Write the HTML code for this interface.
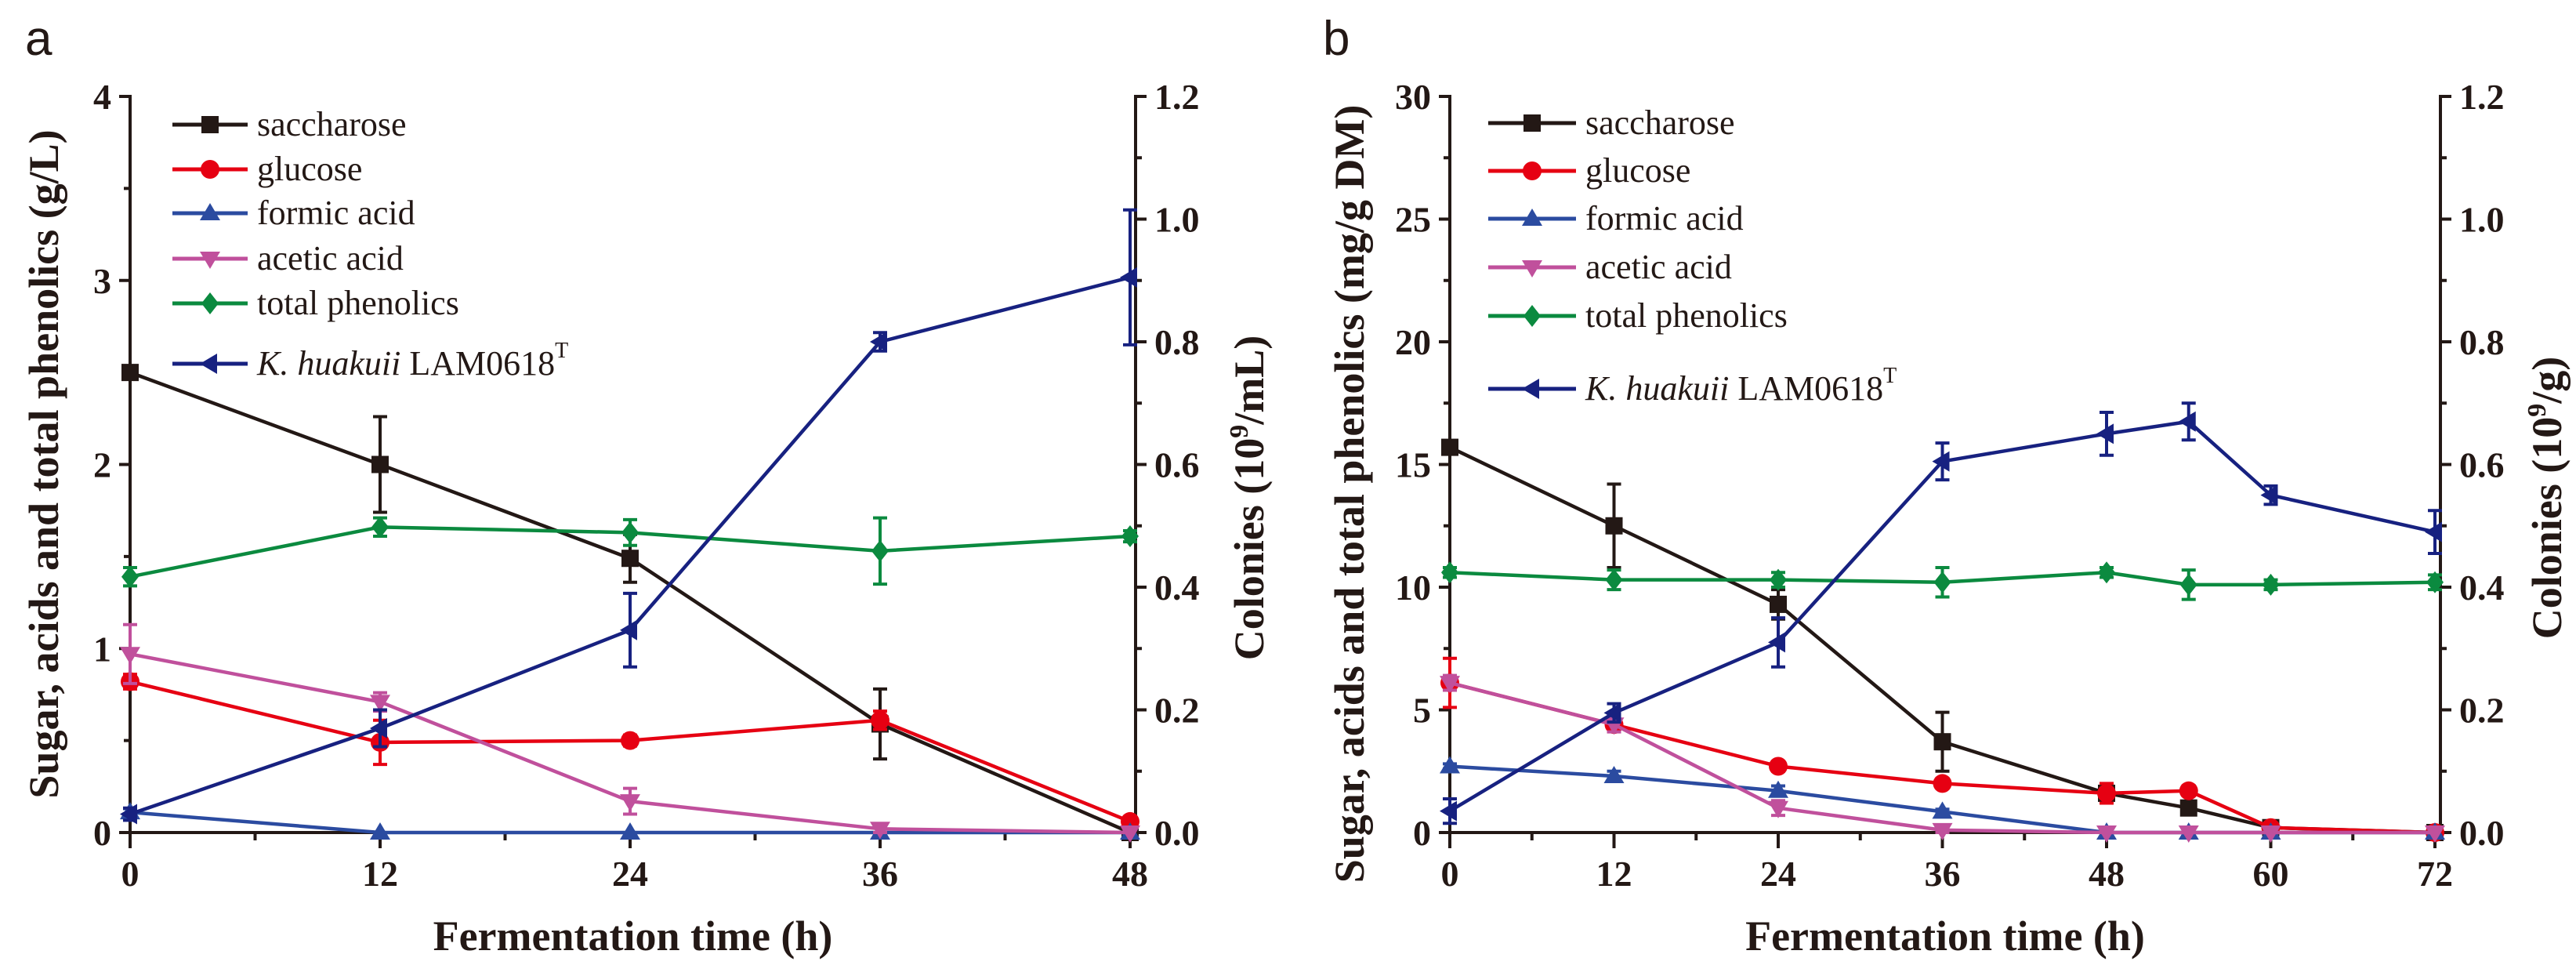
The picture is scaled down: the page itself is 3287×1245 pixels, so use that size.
<!DOCTYPE html>
<html><head><meta charset="utf-8"><style>
html,body{margin:0;padding:0;background:#fff;}
svg{display:block;font-family:"Liberation Serif",serif;}
</style></head><body>
<svg id="fig" width="3287" height="1245" viewBox="0 0 3287 1245" xmlns="http://www.w3.org/2000/svg"></svg>
<script>
// Panel a data
const timesA = [0, 12, 24, 36, 48];
const saccA = [2.5, 2.0, 1.49, 0.59, 0.0];
const saccErrA = [0, 0.26, 0.13, 0.19, 0];
const glucA = [0.82, 0.49, 0.5, 0.61, 0.06];
const glucErrA = [0.04, 0.12, 0.03, 0.05, 0.02];
const formA = [0.11, 0, 0, 0, 0];
const formErrA = [0.02, 0, 0, 0, 0];
const acetA = [0.97, 0.71, 0.17, 0.02, 0];
const acetErrA = [0.16, 0.05, 0.07, 0.02, 0];
const phenA = [1.39, 1.66, 1.63, 1.53, 1.61];
const phenErrA = [0.05, 0.05, 0.07, 0.18, 0.03];
const colA = [0.03, 0.17, 0.33, 0.8, 0.905];
const colErrA = [0.01, 0.03, 0.06, 0.015, 0.11];
const xTicksA = [0, 12, 24, 36, 48];
const yTicksA = [0, 1, 2, 3, 4];
// Panel b data
const timesB = [0, 12, 24, 36, 48, 54, 60, 72];
const saccB = [15.7, 12.5, 9.3, 3.7, 1.6, 1.0, 0.2, 0];
const saccErrB = [0, 1.7, 0.6, 1.2, 0.2, 0.2, 0, 0];
const glucB = [6.1, 4.4, 2.7, 2.0, 1.6, 1.7, 0.2, 0];
const glucErrB = [1.0, 0.2, 0.2, 0.2, 0.4, 0.2, 0.1, 0];
const formB = [2.7, 2.3, 1.7, 0.85, 0, 0, 0, 0];
const formErrB = [0.1, 0.2, 0.2, 0.1, 0, 0, 0, 0];
const acetB = [6.1, 4.4, 1.0, 0.1, 0, 0, 0, 0];
const acetErrB = [0.3, 0.3, 0.3, 0.1, 0, 0, 0, 0];
const phenB = [10.6, 10.3, 10.3, 10.2, 10.6, 10.1, 10.1, 10.2];
const phenErrB = [0.2, 0.4, 0.3, 0.6, 0.2, 0.6, 0.2, 0.3];
const colB = [0.035, 0.195, 0.31, 0.605, 0.65, 0.67, 0.55, 0.49];
const colErrB = [0.02, 0.015, 0.04, 0.03, 0.035, 0.03, 0.015, 0.035];
const xTicksB = [0, 12, 24, 36, 48, 60, 72];
const yTicksB = [0, 5, 10, 15, 20, 25, 30];
const rTicks = [0.0, 0.2, 0.4, 0.6, 0.8, 1.0, 1.2];

const NS = "http://www.w3.org/2000/svg";
const svg = document.getElementById('fig');
function mk(tag, attrs, parent, text) {
  const e = document.createElementNS(NS, tag);
  for (const k in attrs) e.setAttribute(k, attrs[k]);
  if (text !== undefined) e.textContent = text;
  (parent || svg).appendChild(e);
  return e;
}
const COL = {sacc:'#231815', gluc:'#e60012', form:'#2b4ba0', acet:'#c0509c', phen:'#0b8a3f', col:'#172180'};

function marker(g, type, cx, cy, color) {
  const s = 11;
  let m;
  if (type === 'sq') m = mk('rect', {x: cx - s, y: cy - s, width: 2*s, height: 2*s, fill: color}, g);
  else if (type === 'ci') m = mk('circle', {cx: cx, cy: cy, r: s + 1, fill: color}, g);
  else if (type === 'up') m = mk('polygon', {points: `${cx},${cy-s-2} ${cx-s-2},${cy+s-2} ${cx+s+2},${cy+s-2}`, fill: color}, g);
  else if (type === 'dn') m = mk('polygon', {points: `${cx},${cy+s+2} ${cx-s-2},${cy-s+2} ${cx+s+2},${cy-s+2}`, fill: color}, g);
  else if (type === 'di') m = mk('polygon', {points: `${cx},${cy-s-3} ${cx-s},${cy} ${cx},${cy+s+3} ${cx+s},${cy}`, fill: color}, g);
  else if (type === 'lt') m = mk('polygon', {points: `${cx-s-2},${cy} ${cx+s-2},${cy-s-2} ${cx+s-2},${cy+s+2}`, fill: color}, g);
  
  
}

function panel(P) {
  const g = mk('g', {}, svg);
  
  
  const X = t => P.x0 + (t - P.xmin) / (P.xmax - P.xmin) * (P.x1 - P.x0);
  const YL = v => P.y0 - v / P.lmax * (P.y0 - P.y1);
  const YR = v => P.y0 - v / 1.2 * (P.y0 - P.y1);
  const RX = P.xr;

  const lbl = mk('text', {x: P.letterX, y: 70, 'font-size': 62, 'font-family': '"Liberation Sans",sans-serif', fill: '#231815'}, g, P.letter);
  
  

  const ax = mk('g', {stroke: '#231815', 'stroke-width': 4, fill: 'none'}, g);
  
  
  mk('line', {x1: P.x0, y1: P.y1 - 2, x2: P.x0, y2: P.y0 + 2}, ax);
  mk('line', {x1: RX, y1: P.y1 - 2, x2: RX, y2: P.y0 + 2}, ax);
  mk('line', {x1: P.x0 - 2, y1: P.y0, x2: RX + 2, y2: P.y0}, ax);
  mk('line', {x1: P.x0 - 12, y1: P.y1, x2: P.x0, y2: P.y1}, ax);
  mk('line', {x1: RX, y1: P.y1, x2: RX + 14, y2: P.y1}, ax);

  for (let t = P.xmin; t <= P.xmax; t += 6) {
    const major = P.xTicks.includes(t);
    mk('line', {x1: X(t), y1: P.y0, x2: X(t), y2: P.y0 + (major ? 20 : 10)}, ax);
  }
  P.xTicks.forEach(t => {
    const e = mk('text', {x: X(t), y: P.y0 + 68, 'font-size': 46, 'font-weight': 'bold', 'text-anchor': 'middle', fill: '#231815'}, g, String(t));
    
    
  });
  const step = P.yTicks[1] - P.yTicks[0];
  for (let v = 0; v <= P.lmax + 1e-9; v += step / 2) {
    const major = Math.abs(v / step - Math.round(v / step)) < 1e-6;
    mk('line', {x1: P.x0 - (major ? 14 : 8), y1: YL(v), x2: P.x0, y2: YL(v)}, ax);
  }
  P.yTicks.forEach(v => {
    const e = mk('text', {x: P.x0 - 24, y: YL(v) + 16, 'font-size': 46, 'font-weight': 'bold', 'text-anchor': 'end', fill: '#231815'}, g, String(v));
    
    
  });
  for (let v = 0; v <= 1.2001; v += 0.1) {
    const major = Math.round(v * 10) % 2 === 0;
    mk('line', {x1: RX, y1: YR(v), x2: RX + (major ? 14 : 8), y2: YR(v)}, ax);
  }
  rTicks.forEach(v => {
    const e = mk('text', {x: RX + 24, y: YR(v) + 16, 'font-size': 46, 'font-weight': 'bold', fill: '#231815'}, g, v.toFixed(1));
    
    
  });
  const xt = mk('text', {x: (P.x0 + RX) / 2, y: 1212, 'font-size': 54, 'font-weight': 'bold', 'text-anchor': 'middle', fill: '#231815'}, g, 'Fermentation time (h)');
  
  
  const yt = mk('text', {x: 0, y: 0, 'font-size': 54, 'font-weight': 'bold', 'text-anchor': 'middle', fill: '#231815', transform: `translate(${P.ltX},${P.ltY}) rotate(-90)`}, g, P.leftTitle);
  
  
  const rt = mk('text', {x: 0, y: 0, 'font-size': 54, 'font-weight': 'bold', 'text-anchor': 'middle', fill: '#231815', transform: `translate(${P.rtX},${P.rtY}) rotate(-90)`}, g);
  
  
  mk('tspan', {}, rt, 'Colonies (10');
  mk('tspan', {'font-size': 34, dy: -20}, rt, '9');
  mk('tspan', {dy: 20}, rt, P.rUnit);

  P.series.forEach(s => {
    const sg = mk('g', {}, g);
    
    
    const Y = s.right ? YR : YL;
    const pts = P.times.map((t, i) => `${X(t)},${Y(s.vals[i])}`).join(' ');
    const ln = mk('polyline', {points: pts, fill: 'none', stroke: COL[s.key], 'stroke-width': 4.5, 'stroke-linejoin': 'round'}, sg);
    
    
    P.times.forEach((t, i) => {
      const e = s.err[i];
      if (e > 0) {
        const x = X(t), ya = Y(s.vals[i] + e), yb = Y(Math.max(0, s.vals[i] - e));
        const eg = mk('g', {stroke: COL[s.key], 'stroke-width': 4}, sg);
        
        
        mk('line', {x1: x, y1: ya, x2: x, y2: yb}, eg);
        mk('line', {x1: x - 9, y1: ya, x2: x + 9, y2: ya}, eg);
        mk('line', {x1: x - 9, y1: yb, x2: x + 9, y2: yb}, eg);
      }
      marker(sg, s.mk, X(t), Y(s.vals[i]), COL[s.key]);
    });
  });

  const lg = mk('g', {}, g);
  
  
  P.series.forEach((s, i) => {
    const y = P.legY[i];
    const eg = mk('g', {}, lg);
    
    
    mk('line', {x1: P.legX, y1: y, x2: P.legX + P.legW, y2: y, stroke: COL[s.key], 'stroke-width': 5}, eg);
    marker(eg, s.mk, P.legX + P.legW / 2, y, COL[s.key]);
    const tx = mk('text', {x: P.legX + P.legW + 12, y: y + 14, 'font-size': 44, fill: '#231815'}, eg);
    if (s.key === 'col') {
      mk('tspan', {'font-style': 'italic'}, tx, 'K. huakuii');
      mk('tspan', {}, tx, ' LAM0618');
      mk('tspan', {'font-size': 28, dy: -22}, tx, 'T');
    } else tx.textContent = s.label;
  });
}

panel({name: 'panel-a', letter: 'a', letterX: 32, x0: 166, x1: 1442, xr: 1449, y0: 1062, y1: 123, xmin: 0, xmax: 48, lmax: 4,
  times: timesA, xTicks: xTicksA, yTicks: yTicksA,
  leftTitle: 'Sugar, acids and total phenolics (g/L)', ltX: 74, ltY: 592,
  rtX: 1612, rtY: 635, rUnit: '/mL)',
  legX: 220, legW: 96, legY: [159, 216, 272, 330, 387, 464],
  series: [
    {key: 'sacc', label: 'saccharose', mk: 'sq', vals: saccA, err: saccErrA},
    {key: 'gluc', label: 'glucose', mk: 'ci', vals: glucA, err: glucErrA},
    {key: 'form', label: 'formic acid', mk: 'up', vals: formA, err: formErrA},
    {key: 'acet', label: 'acetic acid', mk: 'dn', vals: acetA, err: acetErrA},
    {key: 'phen', label: 'total phenolics', mk: 'di', vals: phenA, err: phenErrA},
    {key: 'col', label: 'colonies', mk: 'lt', vals: colA, err: colErrA, right: true}
  ]});

panel({name: 'panel-b', letter: 'b', letterX: 1688, x0: 1850, x1: 3107, xr: 3114, y0: 1062, y1: 123, xmin: 0, xmax: 72, lmax: 30,
  times: timesB, xTicks: xTicksB, yTicks: yTicksB,
  leftTitle: 'Sugar, acids and total phenolics (mg/g DM)', ltX: 1740, ltY: 630,
  rtX: 3268, rtY: 635, rUnit: '/g)',
  legX: 1899, legW: 112, legY: [157, 218, 279, 341, 403, 496],
  series: [
    {key: 'sacc', label: 'saccharose', mk: 'sq', vals: saccB, err: saccErrB},
    {key: 'gluc', label: 'glucose', mk: 'ci', vals: glucB, err: glucErrB},
    {key: 'form', label: 'formic acid', mk: 'up', vals: formB, err: formErrB},
    {key: 'acet', label: 'acetic acid', mk: 'dn', vals: acetB, err: acetErrB},
    {key: 'phen', label: 'total phenolics', mk: 'di', vals: phenB, err: phenErrB},
    {key: 'col', label: 'colonies', mk: 'lt', vals: colB, err: colErrB, right: true}
  ]});
</script>
</body></html>
